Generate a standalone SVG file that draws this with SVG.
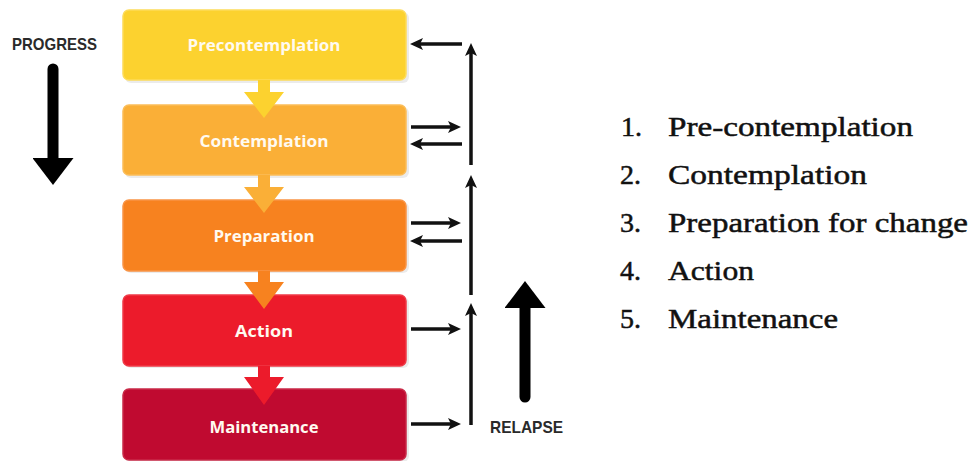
<svg xmlns="http://www.w3.org/2000/svg" width="971" height="461" viewBox="0 0 971 461">
<style>
.box{stroke-width:1.5;}
.lbl{font-family:"Open Sans","DejaVu Sans",sans-serif;font-weight:bold;font-size:15.5px;fill:#fffaf0;text-anchor:middle;}
.side{font-family:"Liberation Sans","DejaVu Sans",sans-serif;font-weight:bold;font-size:17px;fill:#2a2a2a;}
.list{font-family:"Liberation Serif","DejaVu Serif",serif;font-size:28px;fill:#111;stroke:#111;stroke-width:0.5;}
.thin{stroke:#111;stroke-width:3.5;fill:none;marker-end:url(#ah);}
.big{stroke:#000;stroke-width:11;stroke-linecap:round;fill:none;marker-end:url(#bh);}
.shadow{fill:#000;opacity:0.08;}
</style>
<defs>
<marker id="ah" viewBox="0 0 13 12" markerWidth="13" markerHeight="12" refX="3" refY="6" orient="auto" markerUnits="userSpaceOnUse">
<path d="M0,0 L13,6 L0,12 L3,6 z" fill="#111"/>
</marker>
<marker id="bh" viewBox="0 0 27 41" markerWidth="27" markerHeight="41" refX="2" refY="20.5" orient="auto" markerUnits="userSpaceOnUse">
<path d="M0,0 L27,20.5 L0,41 z" fill="#000"/>
</marker>
</defs>

<rect width="971" height="461" fill="#ffffff"/>

<g id="progress">
<text class="side" x="12" y="50" textLength="85" lengthAdjust="spacingAndGlyphs">PROGRESS</text>
</g>

<g id="box1">
<rect class="shadow" x="125" y="12" width="284" height="71" rx="6"/>
<rect class="box" x="123" y="10" width="283" height="70" rx="6" fill="#FCD22F" stroke="#FDDC5A"/>
<text class="lbl" x="264" y="51" textLength="153" lengthAdjust="spacingAndGlyphs">Precontemplation</text>
</g>
<g id="box2">
<rect class="shadow" x="125" y="107" width="284" height="71" rx="6"/>
<rect class="box" x="123" y="105" width="283" height="70" rx="6" fill="#FAAF37" stroke="#FBBD58"/>
<text class="lbl" x="264" y="147" textLength="129" lengthAdjust="spacingAndGlyphs">Contemplation</text>
</g>
<g id="box3">
<rect class="shadow" x="125" y="202" width="284" height="71" rx="6"/>
<rect class="box" x="123" y="200" width="283" height="71" rx="6" fill="#F7821F" stroke="#F99445"/>
<text class="lbl" x="264" y="242" textLength="101" lengthAdjust="spacingAndGlyphs">Preparation</text>
</g>
<g id="box4">
<rect class="shadow" x="125" y="297" width="284" height="71" rx="6"/>
<rect class="box" x="123" y="295" width="283" height="71" rx="6" fill="#EC1B2B" stroke="#EF3A47"/>
<text class="lbl" x="264" y="337" textLength="58" lengthAdjust="spacingAndGlyphs">Action</text>
</g>
<g id="box5">
<rect class="shadow" x="125" y="391" width="284" height="71" rx="6"/>
<rect class="box" x="123" y="389" width="283" height="71" rx="6" fill="#C00A30" stroke="#C92A48"/>
<text class="lbl" x="264" y="433" textLength="109" lengthAdjust="spacingAndGlyphs">Maintenance</text>
</g>

<g id="connectors">
<path d="M258,80 H270 V92 H284 L264,118 L244,92 H258 Z" fill="#FCD22F"/>
<path d="M258,175 H270 V187 H284 L264,213 L244,187 H258 Z" fill="#FAAF37"/>
<path d="M258,271 H270 V282 H284 L264,309 L244,282 H258 Z" fill="#F7821F"/>
<path d="M258,366 H270 V377 H284 L264,405 L244,377 H258 Z" fill="#EC1B2B"/>

<line class="thin" x1="462" y1="44" x2="420" y2="44"/>
<line class="thin" x1="411" y1="127" x2="451" y2="127"/>
<line class="thin" x1="462" y1="144" x2="420" y2="144"/>
<line class="thin" x1="411" y1="223" x2="451" y2="223"/>
<line class="thin" x1="462" y1="241" x2="420" y2="241"/>
<line class="thin" x1="411" y1="329" x2="451" y2="329"/>
<line class="thin" x1="411" y1="424" x2="451" y2="424"/>

<line class="thin" x1="471" y1="165" x2="471" y2="53"/>
<line class="thin" x1="471" y1="295" x2="471" y2="185"/>
<line class="thin" x1="471" y1="425" x2="471" y2="313"/>

<line class="big" x1="53" y1="69" x2="53" y2="160"/>
<line class="big" x1="525" y1="397" x2="525" y2="306"/>
</g>

<g id="relapse">
<text class="side" x="490" y="433" textLength="73" lengthAdjust="spacingAndGlyphs">RELAPSE</text>
</g>

<g id="list">
<text class="list" x="621" y="136">1.</text>
<text class="list" x="668" y="136" textLength="245" lengthAdjust="spacingAndGlyphs">Pre-contemplation</text>
<text class="list" x="620" y="184">2.</text>
<text class="list" x="668" y="184" textLength="199" lengthAdjust="spacingAndGlyphs">Contemplation</text>
<text class="list" x="620" y="232">3.</text>
<text class="list" x="668" y="232" textLength="300" lengthAdjust="spacingAndGlyphs">Preparation for change</text>
<text class="list" x="620" y="280">4.</text>
<text class="list" x="668" y="280" textLength="86" lengthAdjust="spacingAndGlyphs">Action</text>
<text class="list" x="620" y="328">5.</text>
<text class="list" x="668" y="328" textLength="170" lengthAdjust="spacingAndGlyphs">Maintenance</text>
</g>
</svg>
